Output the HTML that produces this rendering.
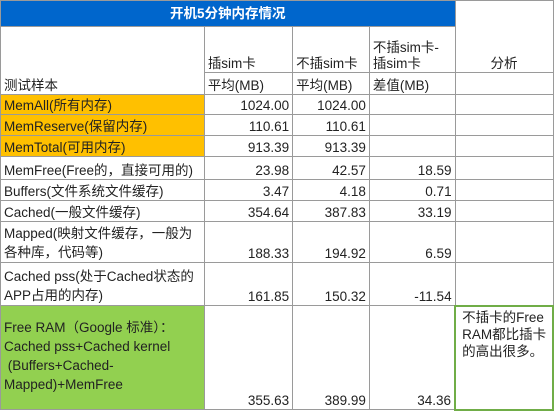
<!DOCTYPE html>
<html><head><meta charset="utf-8">
<style>
body{margin:0;background:#fff;width:554px;height:409px;overflow:hidden;font-family:"Liberation Sans","Noto Sans CJK SC",sans-serif;font-size:13.5px;color:#222}
table{border-collapse:collapse;table-layout:fixed;position:absolute;left:0;top:0}
td{border:1px solid #9a9a9a;padding:0 3px;line-height:16px;vertical-align:bottom;white-space:nowrap;overflow:hidden}
.n{text-align:right}
.o{background:#ffc000}
.g{background:#92d050}
.t{background:#0066cc;color:#fff;font-weight:bold;text-align:center;vertical-align:middle}
</style></head><body>
<table>
<colgroup><col style="width:204px"><col style="width:89px"><col style="width:77px"><col style="width:86px"><col style="width:98px"></colgroup>
<tr style="height:26px"><td colspan="4" class="t">开机5分钟内存情况</td><td style="border-bottom:none"></td></tr>
<tr style="height:46px"><td rowspan="2">测试样本</td><td>插sim卡</td><td>不插sim卡</td><td>不插sim卡-<br>插sim卡</td><td style="text-align:center;border-top:none">分析</td></tr>
<tr style="height:22px"><td>平均(MB)</td><td>平均(MB)</td><td>差值(MB)</td><td></td></tr>
<tr style="height:20px"><td class="o">MemAll(所有内存)</td><td class="n">1024.00</td><td class="n">1024.00</td><td></td><td></td></tr>
<tr style="height:21px"><td class="o">MemReserve(保留内存)</td><td class="n">110.61</td><td class="n">110.61</td><td></td><td></td></tr>
<tr style="height:21px"><td class="o">MemTotal(可用内存)</td><td class="n">913.39</td><td class="n">913.39</td><td></td><td></td></tr>
<tr style="height:23px"><td>MemFree(Free的，直接可用的)</td><td class="n">23.98</td><td class="n">42.57</td><td class="n">18.59</td><td></td></tr>
<tr style="height:21px"><td>Buffers(文件系统文件缓存)</td><td class="n">3.47</td><td class="n">4.18</td><td class="n">0.71</td><td></td></tr>
<tr style="height:21px"><td>Cached(一般文件缓存)</td><td class="n">354.64</td><td class="n">387.83</td><td class="n">33.19</td><td></td></tr>
<tr style="height:41px"><td style="line-height:19px">Mapped(映射文件缓存，一般为<br>各种库，代码等)</td><td class="n">188.33</td><td class="n">194.92</td><td class="n">6.59</td><td></td></tr>
<tr style="height:43px"><td style="line-height:19px">Cached pss(处于Cached状态的<br>APP占用的内存)</td><td class="n">161.85</td><td class="n">150.32</td><td class="n">-11.54</td><td></td></tr>
<tr style="height:104px"><td class="g" style="line-height:19px;vertical-align:top;padding-top:12px">Free RAM（Google 标准）：<br>Cached pss+Cached kernel<br>&nbsp;(Buffers+Cached-<br>Mapped)+MemFree</td><td class="n">355.63</td><td class="n">389.99</td><td class="n">34.36</td><td style="vertical-align:top;border:2px solid #70ad47;line-height:17px;padding:2px 2px 0 6px">不插卡的Free<br>RAM都比插卡<br>的高出很多。</td></tr>
</table>
</body></html>
